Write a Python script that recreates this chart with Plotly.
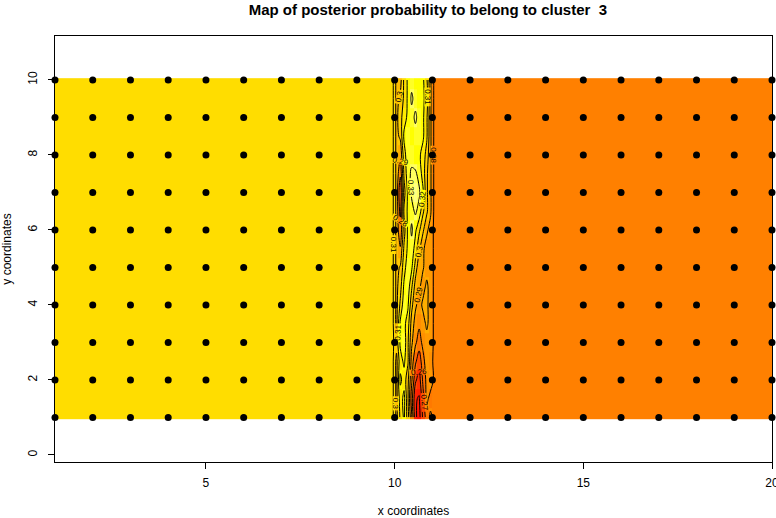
import plotly.graph_objects as go

# ---------------- data ----------------
title_text = "Map of posterior probability to belong to cluster  3"

# x cell edges of the posterior-probability raster (non uniform: fine inside the transition band)
x_edges = [1.0, 9.9, 10.0, 10.1, 10.2, 10.3, 10.4, 10.5, 10.6, 10.7, 10.8, 10.9, 11.0, 11.1, 20.0]
# y cell centres of the raster
y_rows = [1.0, 1.5, 2.0, 2.5, 3.0, 3.5, 4.0, 4.5, 5.0, 5.5, 6.0, 6.5, 7.0, 7.5, 8.0, 8.5, 9.0, 9.5, 10.0]

left_value = 0.312   # posterior probability west of the band
right_value = 0.278  # posterior probability east of the band

# posterior probability inside the band (columns 10.0-11.0, one row per y_rows entry)
band_values = [
    [0.297, 0.312, 0.322, 0.305, 0.282, 0.252, 0.246, 0.262, 0.275, 0.282],
    [0.297, 0.315, 0.323, 0.302, 0.275, 0.251, 0.249, 0.266, 0.283, 0.276],
    [0.297, 0.322, 0.316, 0.303, 0.282, 0.262, 0.255, 0.272, 0.283, 0.286],
    [0.297, 0.316, 0.322, 0.312, 0.286, 0.272, 0.264, 0.276, 0.286, 0.283],
    [0.304, 0.322, 0.326, 0.312, 0.292, 0.282, 0.275, 0.283, 0.286, 0.286],
    [0.297, 0.322, 0.323, 0.315, 0.296, 0.286, 0.282, 0.286, 0.292, 0.286],
    [0.297, 0.312, 0.326, 0.322, 0.303, 0.292, 0.286, 0.292, 0.292, 0.286],
    [0.297, 0.306, 0.322, 0.326, 0.312, 0.296, 0.292, 0.286, 0.292, 0.286],
    [0.297, 0.301, 0.316, 0.326, 0.322, 0.306, 0.292, 0.291, 0.286, 0.286],
    [0.297, 0.291, 0.312, 0.322, 0.326, 0.316, 0.302, 0.292, 0.286, 0.286],
    [0.297, 0.282, 0.306, 0.322, 0.332, 0.322, 0.312, 0.302, 0.292, 0.286],
    [0.297, 0.276, 0.312, 0.322, 0.326, 0.332, 0.326, 0.312, 0.302, 0.292],
    [0.297, 0.271, 0.306, 0.322, 0.332, 0.336, 0.332, 0.322, 0.302, 0.292],
    [0.297, 0.282, 0.312, 0.326, 0.332, 0.332, 0.326, 0.316, 0.302, 0.292],
    [0.297, 0.292, 0.316, 0.326, 0.326, 0.322, 0.322, 0.316, 0.306, 0.292],
    [0.297, 0.302, 0.322, 0.326, 0.322, 0.326, 0.326, 0.322, 0.312, 0.292],
    [0.297, 0.306, 0.316, 0.322, 0.326, 0.332, 0.326, 0.322, 0.312, 0.292],
    [0.297, 0.302, 0.312, 0.322, 0.332, 0.326, 0.322, 0.322, 0.316, 0.292],
    [0.297, 0.296, 0.312, 0.322, 0.326, 0.322, 0.322, 0.322, 0.312, 0.292],
]

# observation sites
site_x = list(range(1, 21))
site_y = list(range(1, 11))

x_ticks = [5, 10, 15, 20]
y_ticks = [0, 2, 4, 6, 8, 10]

# ---------------- build ----------------
z = [[left_value, left_value] + row + [right_value, right_value] for row in band_values]
x_centres = [(a + b) / 2 for a, b in zip(x_edges[:-1], x_edges[1:])]
half = 0.045
y_edges = [y_rows[0] - half] + [(a + b) / 2 for a, b in zip(y_rows[:-1], y_rows[1:])] + [y_rows[-1] + half]

heat = [
    [0.00, "#FF0000"],
    [0.20, "#FF4000"],
    [0.38, "#FF8000"],
    [0.48, "#FFA000"],
    [0.57, "#FFC000"],
    [0.72, "#FFDD00"],
    [0.82, "#FFFF00"],
    [0.92, "#FFFF60"],
    [1.00, "#FFFFA0"],
]

fig = go.Figure()
fig.add_trace(go.Heatmap(
    x=x_edges, y=y_edges, z=z, zmin=0.24, zmax=0.34,
    colorscale=heat, showscale=False, hoverinfo="skip",
))
fig.add_trace(go.Contour(
    x=x_centres, y=y_rows, z=z,
    contours=dict(start=0.25, end=0.33, size=0.01, coloring="none",
                  showlabels=True, labelfont=dict(size=8, color="black")),
    line=dict(color="black", width=1),
    showscale=False, hoverinfo="skip",
))
px_, py_ = [], []
for yy in site_y:
    for xx in site_x:
        px_.append(xx)
        py_.append(yy)
fig.add_trace(go.Scatter(
    x=px_, y=py_, mode="markers",
    marker=dict(color="black", size=7), hoverinfo="skip", cliponaxis=False,
))

axis_common = dict(
    showgrid=False, zeroline=False, showline=True, mirror=True,
    linecolor="black", linewidth=1, ticks="outside", ticklen=6,
    tickcolor="black", tickfont=dict(size=12, color="black"),
    ticklabeloverflow="allow",
)
fig.update_layout(
    width=776, height=518,
    margin=dict(l=55, r=4, t=36, b=56, autoexpand=False),
    paper_bgcolor="white", plot_bgcolor="white",
    font=dict(family="Liberation Sans, Arial, sans-serif", color="black"),
    showlegend=False,
    title=dict(text="<b>" + title_text + "</b>", x=0.52, xref="paper",
               xanchor="center",
               y=1 - 10 / 518, yref="container", yanchor="middle",
               font=dict(size=15, color="black")),
    xaxis=dict(range=[1, 20], tickvals=x_ticks, ticklabelstandoff=4,
               title=dict(text="x coordinates", font=dict(size=12), standoff=22),
               **axis_common),
    yaxis=dict(range=[-0.19, 11.17], tickvals=y_ticks, tickangle=-90,
               ticklabelstandoff=6,
               title=dict(text="y coordinates", font=dict(size=12), standoff=14),
               **axis_common),
)
fig.write_html("out.html", config={"displayModeBar": False},
               post_script="document.body.style.margin='0';document.body.style.overflow='hidden';")
